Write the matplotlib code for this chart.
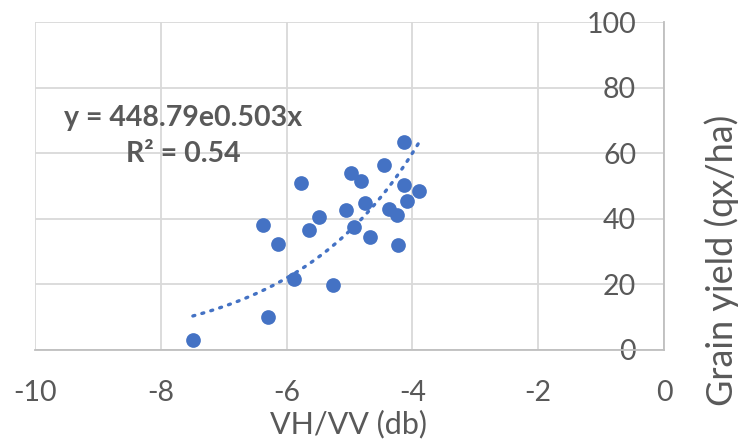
import numpy as np
import matplotlib.pyplot as plt

# VH/VV backscatter ratio (dB) vs grain yield (qx/ha)
vh_vv = [-7.49, -6.30, -5.88, -5.27, -6.38, -6.13, -5.77, -5.65, -5.48, -5.06, -4.97, -4.82,
         -4.93, -4.76, -4.67, -4.45, -4.37, -4.24, -4.23, -4.14, -4.13, -4.09, -3.89]
grain_yield = [3.2, 10.1, 21.5, 19.9, 38.2, 32.3, 51.0, 36.6, 40.5, 42.8, 54.0, 51.5,
               37.6, 44.8, 34.6, 56.4, 43.0, 41.2, 32.0, 63.5, 50.2, 45.3, 48.6]

# exponential trendline coefficients
coef_a = 448.79
coef_b = 0.503
r_squared = 0.54

x_ticks = [-10, -8, -6, -4, -2, 0]
y_ticks = [0, 20, 40, 60, 80, 100]

plt.rcParams['font.family'] = ['Lato', 'DejaVu Sans']
plt.rcParams['axes.unicode_minus'] = False
text_color = '#595959'
blue = '#4472C4'

fig = plt.figure(figsize=(7.39, 4.40), dpi=100)
ax = fig.add_axes([35 / 739, 1 - 350 / 440, 629 / 739, 328 / 440])

ax.scatter(vh_vv, grain_yield, s=112, color=blue, zorder=3, linewidths=0)

xs = np.linspace(min(vh_vv), max(vh_vv), 200)
ax.plot(xs, coef_a * np.exp(coef_b * xs), color=blue, linestyle=(0, (0.6, 2.2)),
        linewidth=2.4, dash_capstyle='round', zorder=2)

ax.set_xlim(-10, 0)
ax.set_ylim(0, 100)
ax.set_xticks(x_ticks)
ax.set_yticks(y_ticks)
ax.grid(True, color='#d9d9d9', linewidth=1.3, zorder=0)
ax.set_axisbelow(True)

# vertical axis crosses at x = 0, on the right edge of the plot
ax.spines['left'].set_position(('data', 0))
ax.spines['left'].set_color('#bfbfbf')
ax.spines['bottom'].set_color('#bfbfbf')
ax.spines['left'].set_linewidth(1.3)
ax.spines['bottom'].set_linewidth(1.3)
ax.spines['top'].set_visible(False)
ax.spines['right'].set_visible(False)

ax.tick_params(axis='both', length=0, labelsize=20.5, labelcolor=text_color)
ax.tick_params(axis='x', pad=21.5)
ax.tick_params(axis='y', pad=20)

# axis titles
fig.text(349 / 739, 1 - 433.5 / 440, 'VH/VV (db)', ha='center', va='baseline',
         fontsize=22, color=text_color)
fig.text(722 / 739, 1 - 260 / 440, 'Grain yield (qx/ha)', rotation=90,
         ha='center', va='center', fontsize=26, color=text_color)

ax.text(-7.65, 70.7, f'y = {coef_a}e{coef_b}x', ha='center', va='center',
        fontsize=20.5, fontweight='bold', color=text_color)
ax.text(-7.65, 59.8, f'R² = {r_squared}', ha='center', va='center',
        fontsize=20.5, fontweight='bold', color=text_color)

fig.savefig('out.png', dpi=100)
